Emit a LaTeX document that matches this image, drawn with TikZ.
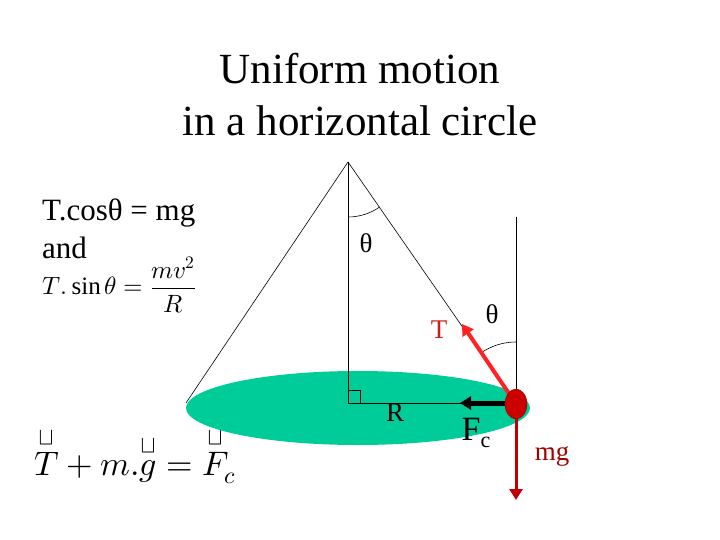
\documentclass[tikz,border=0pt]{standalone}
\usepackage{amsmath}
\usepackage{fontspec}
\usepackage{unicode-math}
\setmainfont{Liberation Serif}
\usetikzlibrary{arrows.meta}
\definecolor{disc}{HTML}{00CC99}
\definecolor{ballred}{HTML}{CC0000}
\definecolor{tred}{HTML}{FF2222}
\definecolor{mgred}{HTML}{C00000}
\tikzset{thin line/.style={draw=black,line width=0.6pt},
 lbl/.style={inner sep=0pt,font=\fontsize{27}{29}\selectfont},
 vec/.style={line width=4pt,-{Triangle[length=11pt,width=13pt]}}}
\begin{document}
\begin{tikzpicture}[x=1pt,y=-1pt]
\useasboundingbox (0,0) rectangle (720,540);
\node[inner sep=0pt,align=center,font=\fontsize{43}{52}\selectfont] (title) at (360,95) {Uniform motion\\in a horizontal circle};
\node[anchor=west,inner sep=0pt,font=\fontsize{31}{32}\selectfont] (eq1) at (42,213) {T.cosθ = mg};
\node[anchor=west,inner sep=0pt,font=\fontsize{31}{32}\selectfont] (and) at (42,248) {and};
\node[anchor=west,inner sep=0pt,font=\fontsize{25}{27}\selectfont] (eq2) at (42,285) {$T.\sin\theta=\dfrac{mv^2}{R}$};
\node[anchor=west,inner sep=0pt,font=\fontsize{34}{36}\selectfont] (eq3) at (34,455) {$\overset{\sqcup}{T}+m.\overset{\sqcup}{g}=\overset{\sqcup}{F}_{\!c}$};
% disc
\fill[disc] (358,408) ellipse[x radius=172,y radius=37];
\coordinate (apex) at (348,162);
\coordinate (cen) at (348,403);
\coordinate (ballc) at (516,404);
\coordinate (left) at (186,403);
\coordinate (vtop) at (516,217);
\draw[thin line] (apex) -- (left);
\draw[thin line] (apex) -- (cen) -- (510,403);
\draw[thin line] (apex) -- (ballc);
\draw[thin line] (vtop) -- (ballc);
\draw[thin line] (348,390) -- (360,390) -- (360,403);
\draw[thin line] (348,217) arc[start angle=90,end angle=55,radius=55];
\draw[thin line] (516,342) arc[start angle=270,end angle=235,radius=62];
% arrows
\draw[vec,tred] (ballc) -- (462,324);
\draw[vec,black,line width=5pt] (507,403) -- (460,403);
\draw[vec,mgred,line width=3pt] (ballc) -- (516,500);
\filldraw[fill=ballred,draw=mgred!70!black] (ballc) ellipse[x radius=11,y radius=15];
% labels
\node[lbl] (th1) at (366,243) {θ};
\node[lbl] (th2) at (492,314) {θ};
\node[lbl,text=tred!80!black] (T) at (439,330) {T};
\node[lbl] (R) at (395,413) {R};
\node[inner sep=0pt,font=\fontsize{34}{36}\selectfont] (Fc) at (476,433) {F\raisebox{-7pt}{\fontsize{22}{24}\selectfont c}};
\node[lbl,text=mgred!85!black] (mg) at (552,456) {mg};
\end{tikzpicture}
\end{document}
